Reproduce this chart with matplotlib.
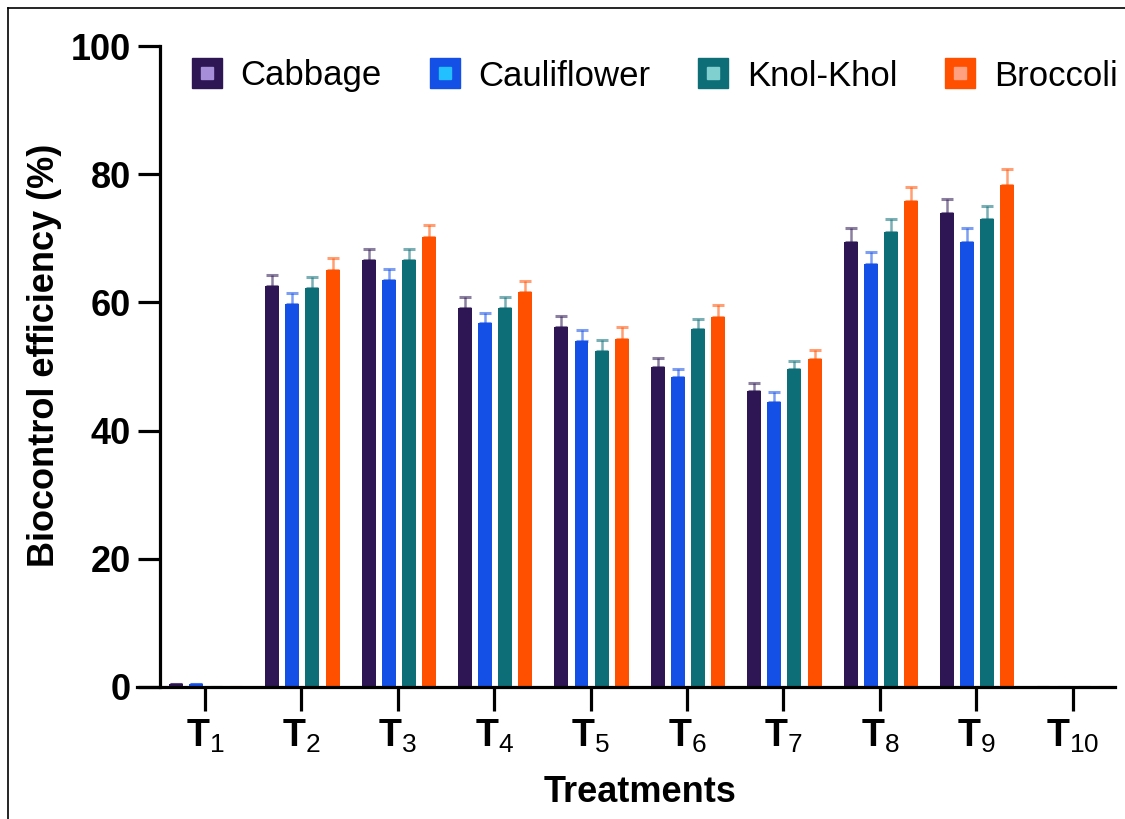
import matplotlib
matplotlib.use('Agg')
import matplotlib.pyplot as plt
from matplotlib.lines import Line2D
import numpy as np

plt.rcParams['font.family'] = ['Liberation Sans', 'DejaVu Sans']
plt.rcParams['mathtext.fontset'] = 'custom'
plt.rcParams['mathtext.rm'] = 'Liberation Sans'
plt.rcParams['mathtext.bf'] = 'Liberation Sans:bold'

treatments = ['1', '2', '3', '4', '5', '6', '7', '8', '9', '10']
crops = ['Cabbage', 'Cauliflower', 'Knol-Khol', 'Broccoli']

cabbage = [0.4, 62.6, 66.6, 59.1, 56.2, 49.9, 46.1, 69.5, 73.9, 0]
cauliflower = [0.4, 59.7, 63.5, 56.8, 54.0, 48.3, 44.5, 66.0, 69.5, 0]
knol_khol = [0, 62.2, 66.6, 59.1, 52.4, 55.8, 49.6, 71.0, 73.0, 0]
broccoli = [0, 65.0, 70.2, 61.6, 54.3, 57.8, 51.1, 75.8, 78.3, 0]

cabbage_err = [0, 1.7, 1.8, 1.7, 1.7, 1.5, 1.4, 2.1, 2.2, 0]
cauliflower_err = [0, 1.8, 1.7, 1.5, 1.7, 1.3, 1.5, 1.8, 2.1, 0]
knol_khol_err = [0, 1.8, 1.8, 1.7, 1.7, 1.6, 1.3, 2.0, 2.1, 0]
broccoli_err = [0, 1.9, 1.9, 1.7, 1.8, 1.8, 1.5, 2.2, 2.5, 0]

values = [cabbage, cauliflower, knol_khol, broccoli]
errors = [cabbage_err, cauliflower_err, knol_khol_err, broccoli_err]
colors = ['#2d1653', '#1450e6', '#0e6e78', '#ff5000']
inner = ['#a68fd8', '#22c0ff', '#80d0d0', '#ffa080']

fig = plt.figure(figsize=(11.25, 8.19), dpi=100)
ax = fig.add_axes([137 / 1125, 1 - 687 / 819, 978 / 1125, 641 / 819])

x = np.arange(1, len(treatments) + 1)
step = 0.209
width = 0.145
for i in range(4):
    pos = x + (i - 1.5) * step + 0.01
    ax.bar(pos, values[i], width, color=colors[i], zorder=2)
    ax.errorbar(pos, values[i], yerr=[np.zeros(10), errors[i]], fmt='none',
                ecolor=colors[i], alpha=0.55, elinewidth=1.8, capsize=4,
                capthick=2.2, zorder=1)

ax.set_xlim(0.295, 10.439)
ax.set_ylim(0, 100)
ax.set_yticks([0, 20, 40, 60, 80, 100])
ax.set_xticks(x)
ax.set_xticklabels([r'$\mathbf{T}_{\mathrm{%s}}$' % t for t in treatments])

ax.spines['top'].set_visible(False)
ax.spines['right'].set_visible(False)
ax.spines['left'].set_position(('data', 0.533))
ax.spines['left'].set_linewidth(2.3)
ax.spines['bottom'].set_linewidth(2.3)
ax.tick_params(axis='y', length=16, width=2.3, pad=5, labelsize=26)
ax.tick_params(axis='x', length=17, width=2.3, pad=5, labelsize=27)
for lab in ax.get_yticklabels():
    lab.set_fontweight('bold')

ax.set_ylabel('Biocontrol efficiency (%)', fontsize=26, fontweight='bold')
ax.yaxis.set_label_coords(-0.077, 0.518)
ax.set_xlabel('Treatments', fontsize=26, fontweight='bold', va='top')
ax.xaxis.set_label_coords(0.514, -0.137)

handles = []
for c, ic in zip(colors, inner):
    outer_h = Line2D([], [], marker='s', linestyle='none', markersize=21,
                     markerfacecolor=c, markeredgecolor=c)
    inner_h = Line2D([], [], marker='s', linestyle='none', markersize=8,
                     markerfacecolor=ic, markeredgecolor=ic)
    handles.append((outer_h, inner_h))
ax.legend(handles, crops, loc='center right', bbox_to_anchor=(1.003, 1 - 30 / 641),
          ncol=4, frameon=False, fontsize=25, handlelength=0.85,
          handletextpad=0.55, columnspacing=1.38, borderpad=0, borderaxespad=0)

fig.add_artist(Line2D([8 / 1125, 8 / 1125], [0, 1 - 8 / 819], color='black',
                      linewidth=1.2, transform=fig.transFigure))
fig.add_artist(Line2D([8 / 1125, 1], [1 - 8 / 819, 1 - 8 / 819], color='black',
                      linewidth=1.2, transform=fig.transFigure))

fig.savefig('out.png', dpi=100)
